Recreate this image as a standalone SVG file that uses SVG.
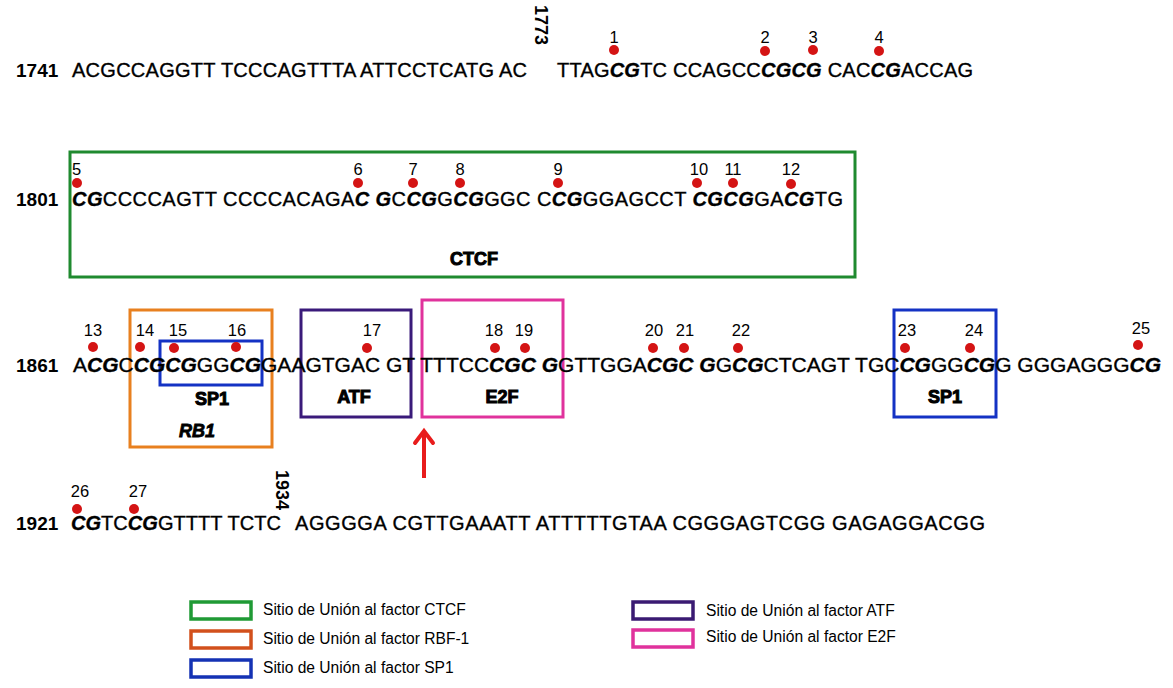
<svg xmlns="http://www.w3.org/2000/svg" width="1173" height="688" viewBox="0 0 1173 688">
<style>
text{font-family:"Liberation Sans",Arial,sans-serif;fill:#000}
.seq{font-size:20px;stroke:#000;stroke-width:0.35}
.lab{font-size:19px;font-weight:bold}
.num{font-size:16.5px;text-anchor:middle}
.b{font-weight:bold;font-style:italic}
.vert{font-size:18px;font-weight:bold}
.tf{font-size:18px;font-weight:bold;text-anchor:middle;stroke:#000;stroke-width:1}
.leg{font-size:15.6px}
.dot{fill:#d41414}
.box{fill:none;stroke-width:3}
.lbox{fill:#fff;stroke-width:3.5}
</style>
<rect width="1173" height="688" fill="#fff"/>

<g id="row1">
<text class="lab" x="16" y="77">1741</text>
<text class="seq" x="72" y="77" textLength="455">ACGCCAGGTT TCCCAGTTTA ATTCCTCATG AC</text>
<text class="vert" transform="translate(535,5) rotate(90)">1773</text>
<text class="seq" x="557" y="77" textLength="416">TTAG<tspan class="b">CG</tspan>TC CCAGCC<tspan class="b">CGCG</tspan> CAC<tspan class="b">CG</tspan>ACCAG</text>
<circle class="dot" cx="614" cy="50" r="5"/><text class="num" x="614" y="43">1</text>
<circle class="dot" cx="765" cy="51" r="5"/><text class="num" x="765" y="43">2</text>
<circle class="dot" cx="813" cy="50" r="5"/><text class="num" x="813" y="43">3</text>
<circle class="dot" cx="879" cy="51" r="5"/><text class="num" x="879" y="43">4</text>
</g>

<g id="ctcf-site">
<rect class="box" x="70" y="152" width="785" height="125" stroke="#1f8a2f"/>
<text class="tf" x="474" y="265">CTCF</text>
</g>

<g id="row2">
<text class="lab" x="16" y="206">1801</text>
<text class="seq" x="72" y="206" textLength="771"><tspan class="b">CG</tspan>CCCCAGTT CCCCACAGA<tspan class="b">C</tspan> <tspan class="b">G</tspan>C<tspan class="b">CG</tspan>G<tspan class="b">CG</tspan>GGC C<tspan class="b">CG</tspan>GGAGCCT <tspan class="b">CGCG</tspan>GA<tspan class="b">CG</tspan>TG</text>
<circle class="dot" cx="77" cy="183" r="5"/><text x="72" y="175" style="font-size:16.5px">5</text>
<circle class="dot" cx="358" cy="183" r="5"/><text class="num" x="358" y="175">6</text>
<circle class="dot" cx="413" cy="183" r="5"/><text class="num" x="413" y="175">7</text>
<circle class="dot" cx="460" cy="183" r="5"/><text class="num" x="460" y="175">8</text>
<circle class="dot" cx="558" cy="183" r="5"/><text class="num" x="558" y="175">9</text>
<circle class="dot" cx="697" cy="183" r="5"/><text class="num" x="699" y="175">10</text>
<circle class="dot" cx="733" cy="183" r="5"/><text class="num" x="733" y="175">11</text>
<circle class="dot" cx="791" cy="184" r="5"/><text class="num" x="791" y="175">12</text>
</g>

<g id="rb1-site">
<rect class="box" x="130" y="310" width="142" height="137" stroke="#e8801f"/>
<text x="197" y="437" style="font-size:18px;font-weight:bold;font-style:italic;text-anchor:middle;stroke:#000;stroke-width:0.8">RB1</text>
</g>
<g id="sp1-site-a">
<rect class="box" x="160" y="341" width="102" height="44" stroke="#1432c4"/>
<text class="tf" x="212" y="405">SP1</text>
</g>
<g id="atf-site">
<rect class="box" x="301" y="310" width="110" height="107" stroke="#3a1a7a"/>
<text class="tf" x="354" y="403">ATF</text>
</g>
<g id="e2f-site">
<rect class="box" x="422" y="300" width="141" height="117" stroke="#e0329c"/>
<text class="tf" x="502" y="403">E2F</text>
</g>
<g id="sp1-site-b">
<rect class="box" x="894" y="310" width="102" height="107" stroke="#1432c4"/>
<text class="tf" x="945" y="403">SP1</text>
</g>

<g id="row3">
<text class="lab" x="16" y="372">1861</text>
<text class="seq" x="73" y="372" style="font-size:21px" textLength="1088">A<tspan class="b">CG</tspan>C<tspan class="b">CGCG</tspan>GG<tspan class="b">CG</tspan>GAAGTGAC GT TTTCC<tspan class="b">CGC</tspan> <tspan class="b">G</tspan>GTTGGA<tspan class="b">CGC</tspan> <tspan class="b">G</tspan>G<tspan class="b">CG</tspan>CTCAGT TGC<tspan class="b">CG</tspan>GG<tspan class="b">CG</tspan>G GGGAGGG<tspan class="b">CG</tspan></text>
<circle class="dot" cx="93" cy="347" r="5"/><text class="num" x="93" y="336">13</text>
<circle class="dot" cx="140" cy="347" r="5"/><text class="num" x="145" y="336">14</text>
<circle class="dot" cx="174" cy="348" r="5"/><text class="num" x="178" y="336">15</text>
<circle class="dot" cx="236" cy="347" r="5"/><text class="num" x="237" y="336">16</text>
<circle class="dot" cx="367" cy="348" r="5"/><text class="num" x="372" y="336">17</text>
<circle class="dot" cx="495" cy="348" r="5"/><text class="num" x="494" y="336">18</text>
<circle class="dot" cx="525" cy="348" r="5"/><text class="num" x="524" y="336">19</text>
<circle class="dot" cx="653" cy="348" r="5"/><text class="num" x="654" y="336">20</text>
<circle class="dot" cx="684" cy="348" r="5"/><text class="num" x="685" y="336">21</text>
<circle class="dot" cx="738" cy="348" r="5"/><text class="num" x="741" y="336">22</text>
<circle class="dot" cx="905" cy="348" r="5"/><text class="num" x="907" y="336">23</text>
<circle class="dot" cx="970" cy="348" r="5"/><text class="num" x="974" y="336">24</text>
<circle class="dot" cx="1138" cy="345" r="5"/><text class="num" x="1141" y="334">25</text>
</g>

<g id="connectors">
<line x1="424" y1="478" x2="424" y2="432" stroke="#e81c1c" stroke-width="4"/>
<polyline points="415,443 424,431 433,443" fill="none" stroke="#e81c1c" stroke-width="4" stroke-linecap="round"/>
</g>

<g id="row4">
<text class="lab" x="16" y="530">1921</text>
<text class="seq" x="71" y="530" textLength="210"><tspan class="b">CG</tspan>TC<tspan class="b">CG</tspan>GTTTT TCTC</text>
<text class="vert" transform="translate(276,470) rotate(90)">1934</text>
<text class="seq" x="295" y="530" textLength="690">AGGGGA CGTTGAAATT ATTTTTGTAA CGGGAGTCGG GAGAGGACGG</text>
<circle class="dot" cx="77" cy="509" r="5"/><text class="num" x="80" y="497">26</text>
<circle class="dot" cx="134" cy="509" r="5"/><text class="num" x="138" y="497">27</text>
</g>

<g id="legend">
<rect class="lbox" x="191" y="602" width="60" height="17" stroke="#1f9a35"/>
<text class="leg" x="263" y="615">Sitio de Unión al factor CTCF</text>
<rect class="lbox" x="191" y="631" width="60" height="17" stroke="#d2501c"/>
<text class="leg" x="263" y="644">Sitio de Unión al factor RBF-1</text>
<rect class="lbox" x="191" y="660" width="60" height="17" stroke="#1432b4"/>
<text class="leg" x="263" y="673">Sitio de Unión al factor SP1</text>
<rect class="lbox" x="633" y="602" width="60" height="17" stroke="#3a1a72"/>
<text class="leg" x="706" y="616">Sitio de Unión al factor ATF</text>
<rect class="lbox" x="633" y="630" width="60" height="17" stroke="#e0329c"/>
<text class="leg" x="706" y="642">Sitio de Unión al factor E2F</text>
</g>
</svg>
